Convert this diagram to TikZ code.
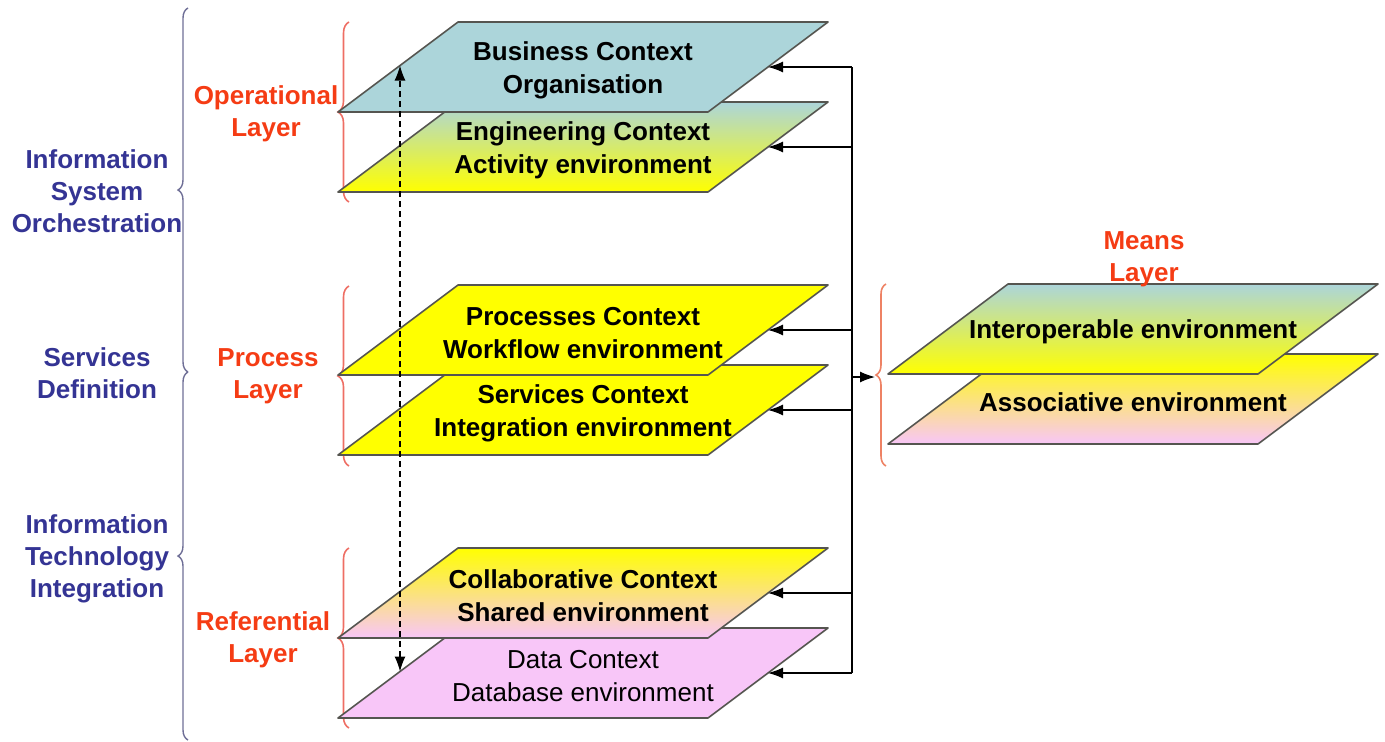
\documentclass[tikz,border=0pt]{standalone}
\usepackage{fontspec}
\setmainfont{Liberation Sans}
\usetikzlibrary{arrows.meta,decorations.pathreplacing}
\definecolor{pblue}{RGB}{172,213,218}
\definecolor{pyellow}{RGB}{255,255,0}
\definecolor{ppink}{RGB}{248,198,248}
\definecolor{pedge}{RGB}{85,85,80}
\definecolor{lblue}{RGB}{52,52,148}
\definecolor{lred}{RGB}{245,60,20}
\definecolor{bred}{RGB}{238,110,100}
\definecolor{bgray}{RGB}{110,110,150}
\definecolor{bmeans}{RGB}{238,130,100}
% name, x of bottom-left corner, y of bottom edge, top colour, middle colour, bottom colour
\newcommand\layerplane[6]{%
  \path[draw=pedge, line width=1.6pt, line join=round, top color=#4, middle color=#5, bottom color=#6]
    (#2,#3) -- ++(120,-90) -- ++(370,0) -- ++(-120,90) -- cycle;
  \coordinate (#1-r) at (#2+430,#3-45);
  \coordinate (#1-c) at (#2+245,#3-42);
}
\begin{document}
\begin{tikzpicture}[x=1pt,y=-1pt,
  ptext/.style={align=center, font=\fontsize{26}{33}\selectfont\bfseries, text=black, inner sep=0pt},
  ptextr/.style={align=center, font=\fontsize{26}{33}\selectfont, text=black, inner sep=0pt},
  bluelabel/.style={align=center, font=\fontsize{26}{32}\selectfont\bfseries, text=lblue, inner sep=0pt},
  redlabel/.style={align=center, font=\fontsize{26}{32}\selectfont\bfseries, text=lred, inner sep=0pt},
  bigbrace/.style={decorate, decoration={brace, amplitude=10pt}, draw=bgray, line width=1.4pt},
  redbrace/.style={decorate, decoration={brace, amplitude=11pt}, draw=bred, line width=1.6pt},
  meansbrace/.style={decorate, decoration={brace, amplitude=10pt}, draw=bmeans, line width=1.6pt},
  conn/.style={draw=black, line width=1.3pt},
  arr/.style={conn, -{Latex[length=15pt,width=11pt]}},
  dasharr/.style={draw=black, line width=1.3pt, dash pattern=on 6pt off 4pt,
     {Latex[length=15pt,width=11pt]}-{Latex[length=15pt,width=11pt]}}
]
\useasboundingbox (0,0) rectangle (1385,742);

% left grouping braces
\draw[bigbrace] (188,372) -- (188,8);
\draw[bigbrace] (188,740) -- (188,372);
\node[bluelabel] (iso) at (97,191) {Information\\System\\Orchestration};
\node[bluelabel] (sd)  at (97,373) {Services\\Definition};
\node[bluelabel] (iti) at (97,559) {Information\\Technology\\Integration};

% red layer braces and labels
\draw[redbrace] (349,202) -- (349,22);
\draw[redbrace] (349,466) -- (349,286);
\draw[redbrace] (349,728) -- (349,548);
\node[redlabel] (opl) at (266,113.5) {Operational\\Layer};
\node[redlabel] (prl) at (268,376) {Process\\Layer};
\node[redlabel] (rfl) at (263,639.5) {Referential\\Layer};

% planes (lower first)
\layerplane{eng}{338}{192}{pblue}{pyellow!80!pblue}{pyellow}
\layerplane{bus}{338}{112}{pblue}{pblue}{pblue}
\layerplane{srv}{338}{455}{pyellow}{pyellow}{pyellow}
\layerplane{prc}{338}{375}{pyellow}{pyellow}{pyellow}
\layerplane{dat}{338}{718}{ppink}{ppink}{ppink}
\layerplane{col}{338}{638}{pyellow}{pyellow!50!ppink}{ppink}
\layerplane{aso}{888}{444}{pyellow}{pyellow!50!ppink}{ppink}
\layerplane{ito}{888}{374}{pblue}{pyellow!75!pblue}{pyellow}

\node[ptext]  (bus) at (bus-c) {Business Context\\Organisation};
\node[ptext]  (eng) at (eng-c) {Engineering Context\\Activity environment};
\node[ptext]  (prc) at (prc-c) {Processes Context\\Workflow environment};
\node[ptext]  (srv) at (srv-c) {Services Context\\Integration environment};
\node[ptext]  (col) at (col-c) {Collaborative Context\\Shared environment};
\node[ptextr] (dat) at (dat-c) {Data Context\\Database environment};
\node[ptext]  (ito) at (ito-c) {Interoperable environment};
\node[ptext]  (aso) at (aso-c) {Associative environment};

% means brace and label
\draw[meansbrace] (886,466) -- (886,284);
\coordinate (mb) at (875,377);
\node[redlabel] (mnl) at (1144,259) {Means\\Layer};

% dashed double arrow between Business and Data planes
\coordinate (dtop) at (400,65.5);
\coordinate (dbot) at (400,671.5);
\draw[dasharr] (dbot) -- (dtop);

% connectors from the hub line
\coordinate (hub) at (852,0);
\draw[conn] (bus-r -| hub) -- (dat-r -| hub);
\draw[arr] (bus-r -| hub) -- (bus-r);
\draw[arr] (eng-r -| hub) -- (eng-r);
\draw[arr] (prc-r -| hub) -- (prc-r);
\draw[arr] (srv-r -| hub) -- (srv-r);
\draw[arr] (col-r -| hub) -- (col-r);
\draw[arr] (dat-r -| hub) -- (dat-r);
\draw[arr] (mb -| hub) -- (mb);
\end{tikzpicture}
\end{document}
